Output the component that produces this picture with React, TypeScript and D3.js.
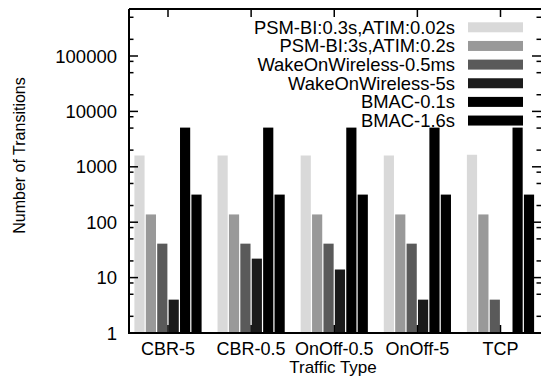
import React from "react";
import * as d3 from "d3";

const categories = ["CBR-5", "CBR-0.5", "OnOff-0.5", "OnOff-5", "TCP"];
const seriesNames = [
  "PSM-BI:0.3s,ATIM:0.02s",
  "PSM-BI:3s,ATIM:0.2s",
  "WakeOnWireless-0.5ms",
  "WakeOnWireless-5s",
  "BMAC-0.1s",
  "BMAC-1.6s",
];
const psm03 = [1600, 1600, 1600, 1600, 1650];
const psm3 = [138, 138, 138, 138, 138];
const wow05 = [41, 41, 41, 41, 4];
const wow5 = [4, 22, 14, 4, 1];
const bmac01 = [5100, 5100, 5100, 5100, 5100];
const bmac16 = [315, 315, 315, 315, 315];
const seriesValues = [psm03, psm3, wow05, wow5, bmac01, bmac16];
const seriesColors = ["#d9d9d9", "#999999", "#5a5a5a", "#1b1b1b", "#000000", "#000000"];
const yTickValues = [1, 10, 100, 1000, 10000, 100000];
const yMinorFactors = [2, 5, 8];

const W = 541;
const H = 391;
const left = 129;
const right = 541.5;
const top = 9;
const bottom = 333;

export default function App() {
  const yMax = Math.pow(10, (bottom - top) / 55.4);
  const y = d3.scaleLog().domain([1, yMax]).range([bottom, top]);
  const x = d3.scaleLinear().domain([0, categories.length - 1]).range([168, 500.5]);
  const xb = d3.scaleBand<number>().domain(d3.range(seriesNames.length)).range([-33.6, 33.6]).paddingInner(0.107);

  const minor: number[] = [];
  for (let e = 0; e < 6; e++) {
    for (const f of yMinorFactors) {
      const v = f * Math.pow(10, e);
      if (v < yMax) minor.push(v);
    }
  }

  const font = "Liberation Sans, Arial, Helvetica, sans-serif";
  const legendY0 = 27.3;
  const legendStep = 18.65;

  return (
    <svg width={W} height={H} style={{ position: "absolute", left: 0, top: 0 }} fontFamily={font}>
      <rect width={W} height={H} fill="#fff" />
      {seriesValues.map((vals, si) =>
        vals.map((v, ci) => (
          <rect
            key={`${si}-${ci}`}
            x={x(ci) + (xb(si) as number)}
            width={xb.bandwidth()}
            y={y(v)}
            height={bottom - y(v)}
            fill={seriesColors[si]}
          />
        ))
      )}
      {/* frame */}
      <path d={`M${left},${top}H${right}M${left},${top}V${bottom}H${right}`} stroke="#000" strokeWidth={2} fill="none" />
      {/* y ticks */}
      {yTickValues.map((v) => (
        <g key={v}>
          <line x1={left} x2={left + 9} y1={y(v)} y2={y(v)} stroke="#000" strokeWidth={1.5} />
          <line x1={W} x2={W - 9} y1={y(v)} y2={y(v)} stroke="#000" strokeWidth={1.5} />
          <text x={117} y={y(v) + 6.5} textAnchor="end" fontSize={18.5} fill="#000">
            {v}
          </text>
        </g>
      ))}
      {minor.map((v) => (
        <g key={`m${v}`}>
          <line x1={left} x2={left + 4.5} y1={y(v)} y2={y(v)} stroke="#000" strokeWidth={1.5} />
          <line x1={W} x2={W - 4.5} y1={y(v)} y2={y(v)} stroke="#000" strokeWidth={1.5} />
        </g>
      ))}
      {/* x ticks */}
      {categories.map((c, i) => (
        <g key={c}>
          <line x1={x(i)} x2={x(i)} y1={top} y2={top + 8} stroke="#000" strokeWidth={1.5} />
          <line x1={x(i)} x2={x(i)} y1={bottom} y2={bottom - 8} stroke="#000" strokeWidth={1.5} />
          <text x={x(i)} y={355} textAnchor="middle" fontSize={18} fill="#000">
            {c}
          </text>
        </g>
      ))}
      {/* legend */}
      {seriesNames.map((n, i) => (
        <g key={n}>
          <text x={455} y={legendY0 + i * legendStep + 6.5} textAnchor="end" fontSize={18.4} fill="#000">
            {n}
          </text>
          <rect x={468} y={legendY0 + i * legendStep - 5} width={55} height={10} fill={seriesColors[i]} />
        </g>
      ))}
      {/* axis titles */}
      <text
        transform={`translate(25,155.5) rotate(-90)`}
        textAnchor="middle"
        fontSize={16}
        fill="#000"
      >
        Number of Transitions
      </text>
      <text x={333} y={373} textAnchor="middle" fontSize={17} fill="#000">
        Traffic Type
      </text>
    </svg>
  );
}
